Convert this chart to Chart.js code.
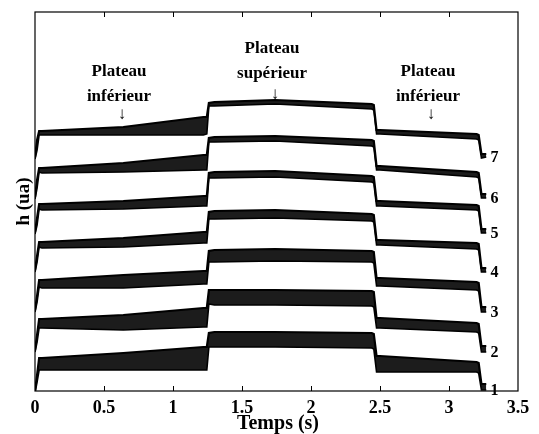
<!DOCTYPE html>
<html>
<head>
<meta charset="utf-8">
<script src="https://cdn.jsdelivr.net/npm/chart.js@4/dist/chart.umd.min.js"></script>
<style>
  html, body { margin: 0; padding: 0; background: #fff; }
</style>
</head>
<body>
<canvas id="chart" width="539" height="434"></canvas>
<script>
// Instants (s) ou l'enveloppe des signaux a ete relevee
const temps = [0, 0.015, 0.03, 0.05, 0.64, 1.22, 1.245, 1.26, 1.30, 1.74, 2.44, 2.455, 2.475, 2.50, 3.20, 3.215, 3.235, 3.27];

// Enveloppe haute / basse de chaque courbe h (ua)
const haut1 = [0.0, 1.6, 3.3, 3.3, 3.8, 4.4, 4.4, 5.8, 5.9, 5.9, 5.8, 5.7, 3.5, 3.5, 2.9, 2.8, 0.7, 0.7];
const bas1  = [-0.2, 0.9, 2.1, 2.1, 2.1, 2.1, 2.1, 4.4, 4.4, 4.4, 4.3, 4.2, 1.9, 1.9, 1.9, 1.8, 0.1, 0.1];
const haut2 = [4.1, 5.6, 7.2, 7.2, 7.6, 8.3, 8.3, 10.1, 10.1, 10.1, 10.0, 9.9, 7.3, 7.3, 6.8, 6.7, 4.5, 4.5];
const bas2  = [3.9, 4.9, 6.3, 6.3, 6.1, 6.4, 6.4, 8.7, 8.6, 8.6, 8.5, 8.4, 6.3, 6.3, 5.9, 5.8, 3.9, 3.9];
const haut3 = [8.1, 9.5, 11.1, 11.1, 11.6, 12.0, 12.0, 14.0, 14.1, 14.2, 14.0, 13.9, 11.3, 11.3, 10.9, 10.8, 8.4, 8.4];
const bas3  = [7.9, 8.9, 10.4, 10.3, 10.3, 10.7, 10.7, 12.9, 12.9, 13.0, 12.9, 12.8, 10.5, 10.5, 10.1, 10.0, 7.9, 7.9];
const haut4 = [12.1, 13.5, 14.9, 14.9, 15.3, 15.9, 15.9, 17.9, 18.0, 18.1, 17.7, 17.6, 15.1, 15.1, 14.8, 14.7, 12.3, 12.3];
const bas4  = [11.9, 12.9, 14.4, 14.3, 14.4, 14.8, 14.8, 17.2, 17.2, 17.3, 17.0, 16.9, 14.6, 14.6, 14.2, 14.1, 11.9, 11.9];
const haut5 = [15.9, 17.3, 18.7, 18.7, 19.0, 19.5, 19.5, 21.8, 21.9, 22.0, 21.5, 21.4, 19.0, 19.0, 18.6, 18.5, 16.2, 16.2];
const bas5  = [15.7, 16.6, 18.2, 18.1, 18.2, 18.5, 18.5, 21.3, 21.3, 21.4, 20.9, 20.8, 18.5, 18.5, 18.1, 18.0, 15.8, 15.8];
const haut6 = [19.4, 21.1, 22.3, 22.3, 22.8, 23.6, 23.6, 25.3, 25.4, 25.5, 25.1, 25.0, 22.5, 22.5, 21.9, 21.8, 19.7, 19.7];
const bas6  = [19.2, 20.3, 21.9, 21.8, 21.9, 22.1, 22.1, 24.9, 24.9, 25.0, 24.5, 24.4, 22.1, 22.1, 21.4, 21.3, 19.3, 19.3];
const haut7 = [23.4, 25.1, 26.0, 26.0, 26.4, 27.4, 27.4, 28.8, 28.9, 29.1, 28.7, 28.6, 26.1, 26.1, 25.7, 25.6, 23.7, 23.7];
const bas7  = [23.2, 24.1, 25.6, 25.6, 25.6, 25.6, 25.7, 28.5, 28.5, 28.7, 28.2, 28.1, 25.7, 25.7, 25.2, 25.1, 23.3, 23.4];

const numeros = ['1', '2', '3', '4', '5', '6', '7'];
const xTicks = [0, 0.5, 1, 1.5, 2, 2.5, 3, 3.5];

const SERIF = '"Liberation Serif", "DejaVu Serif", serif';

const traces = [
    { num: numeros[0], haut: haut1, bas: bas1 },
    { num: numeros[1], haut: haut2, bas: bas2 },
    { num: numeros[2], haut: haut3, bas: bas3 },
    { num: numeros[3], haut: haut4, bas: bas4 },
    { num: numeros[4], haut: haut5, bas: bas5 },
    { num: numeros[5], haut: haut6, bas: bas6 },
    { num: numeros[6], haut: haut7, bas: bas7 }
];

const toPoints = vals => temps.map((t, i) => ({ x: t, y: vals[i] }));

// bande sombre entre les deux enveloppes (oscillations rapides)
const datasets = [];
traces.forEach(tr => {
    datasets.push({
        data: toPoints(tr.haut),
        borderColor: '#000',
        borderWidth: 2.2,
        pointRadius: 0,
        fill: false
    });
    datasets.push({
        data: toPoints(tr.bas),
        borderColor: '#000',
        borderWidth: 1.6,
        pointRadius: 0,
        backgroundColor: '#1c1c1c',
        fill: '-1'
    });
});

// Cadre, graduations internes, textes et numeros des courbes
const decorPlugin = {
    id: 'decor',
    afterDraw(chart) {
        const { ctx, chartArea: a, scales } = chart;
        const xs = scales.x, ys = scales.y;
        ctx.save();
        ctx.strokeStyle = '#000';
        ctx.lineWidth = 1.2;
        ctx.strokeRect(a.left, a.top, a.right - a.left, a.bottom - a.top);

        ctx.lineWidth = 1;
        xTicks.slice(1, -1).forEach(v => {
            const px = Math.round(xs.getPixelForValue(v)) + 0.5;
            ctx.beginPath();
            ctx.moveTo(px, a.bottom);
            ctx.lineTo(px, a.bottom - 5);
            ctx.moveTo(px, a.top);
            ctx.lineTo(px, a.top + 5);
            ctx.stroke();
        });

        ctx.fillStyle = '#000';
        ctx.textAlign = 'center';
        ctx.textBaseline = 'middle';

        const bloc = (cx, y1, l1, y2, l2, y3) => {
            ctx.font = 'bold 17px ' + SERIF;
            ctx.fillText(l1, cx, y1);
            ctx.fillText(l2, cx, y2);
            ctx.font = '17px ' + SERIF;
            ctx.fillText('\u2193', cx + 3, y3);
        };
        bloc(119, 72, 'Plateau', 97, 'inférieur', 115);
        bloc(272, 49, 'Plateau', 74, 'supérieur', 95);
        bloc(428, 72, 'Plateau', 97, 'inférieur', 115);

        ctx.font = 'bold 16px ' + SERIF;
        ctx.textAlign = 'left';
        traces.forEach(tr => {
            const yv = tr.bas[tr.bas.length - 1];
            ctx.fillText(tr.num, xs.getPixelForValue(3.30), ys.getPixelForValue(yv) + 1);
        });

        // titre de l'axe des x
        ctx.textAlign = 'center';
        ctx.font = 'bold 20px ' + SERIF;
        ctx.fillText('Temps (s)', 278, 424);

        ctx.translate(24, (a.top + a.bottom) / 2);
        ctx.rotate(-Math.PI / 2);
        ctx.font = 'bold 19px ' + SERIF;
        ctx.fillText('h (ua)', 0, 0);
        ctx.restore();
    }
};

new Chart(document.getElementById('chart'), {
    type: 'line',
    data: { datasets: datasets },
    options: {
        responsive: false,
        animation: false,
        events: [],
        layout: { padding: { left: 0, right: 21, top: 12, bottom: 0 } },
        elements: { line: { tension: 0 } },
        scales: {
            x: {
                type: 'linear',
                min: 0,
                max: 3.5,
                afterFit: s => { s.height = 43; },
                afterBuildTicks: s => { s.ticks = xTicks.map(v => ({ value: v })); },
                grid: { display: false, drawTicks: false },
                border: { display: false },
                ticks: {
                    color: '#000',
                    padding: 7,
                    maxRotation: 0,
                    callback: v => String(v),
                    font: { family: SERIF, size: 18, weight: 'bold' }
                }
            },
            y: {
                type: 'linear',
                min: 0,
                max: 37.9,
                afterFit: s => { s.width = 35; },
                grid: { display: false, drawTicks: false },
                border: { display: false },
                ticks: { display: false }
            }
        },
        plugins: {
            legend: { display: false },
            tooltip: { enabled: false }
        }
    },
    plugins: [decorPlugin]
});
</script>
</body>
</html>
